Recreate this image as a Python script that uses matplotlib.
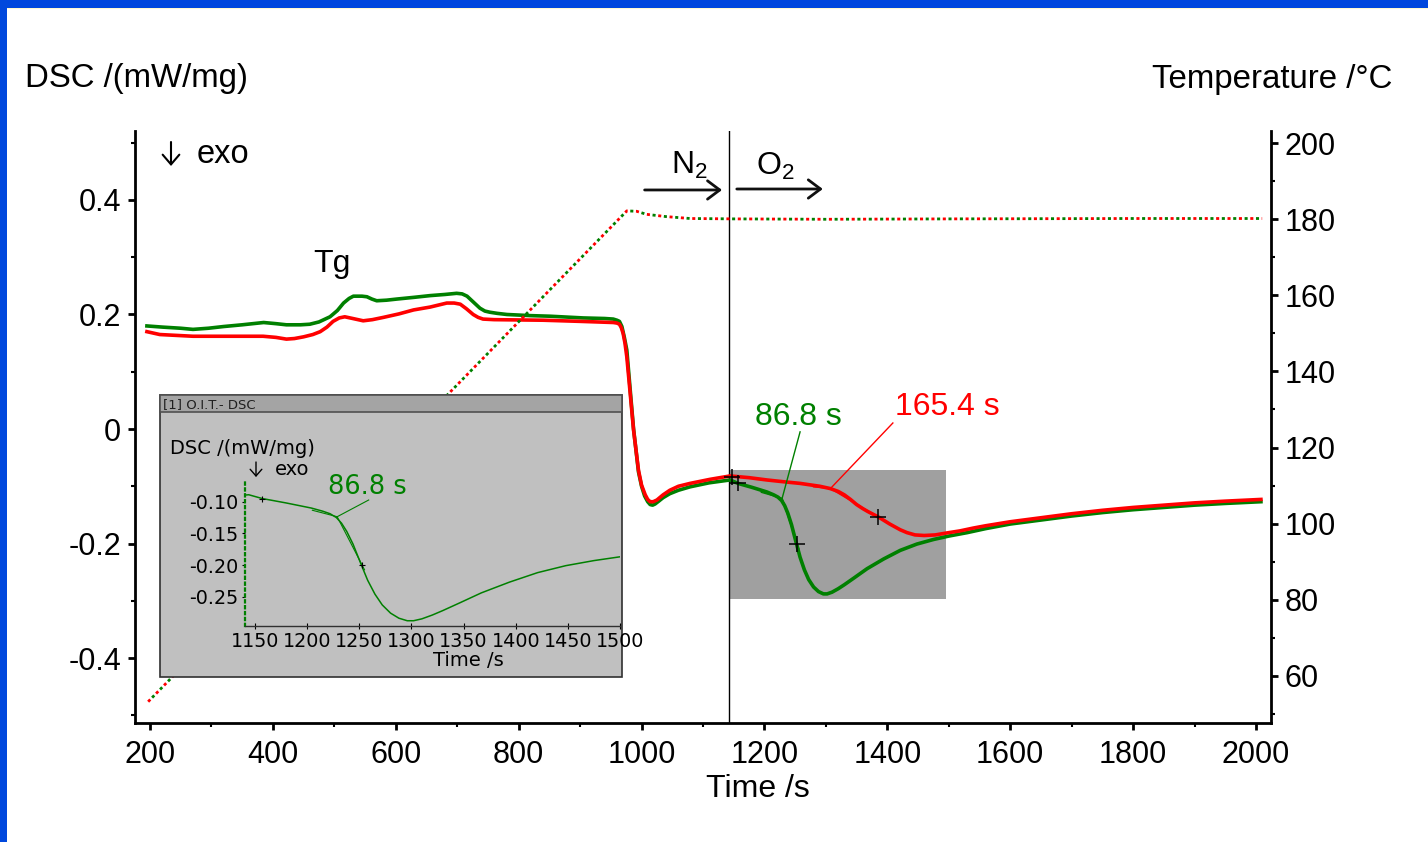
import matplotlib.pyplot as plt
from matplotlib.patches import Rectangle

plt.rcParams['font.family'] = ['Liberation Sans', 'DejaVu Sans']
plt.rcParams['mathtext.fontset'] = 'custom'
plt.rcParams['mathtext.rm'] = 'Liberation Sans'
plt.rcParams['mathtext.default'] = 'regular'
plt.rcParams['axes.unicode_minus'] = False

GREEN = '#008000'
RED = '#ff0000'

# DSC signal, sample 1 (green)
green_t = [195, 220, 250, 270, 295, 320, 350, 385, 405, 422, 445, 460, 475, 493,
           505, 515, 524, 531, 545, 553, 561, 569, 585, 602, 630, 656, 680, 699,
           708, 716, 726, 737, 745, 753, 765, 781, 820, 851, 905, 940, 954, 960,
           964, 968, 972, 976, 981, 987, 995, 1000, 1005, 1010, 1014, 1018, 1022,
           1028, 1035, 1046, 1060, 1079, 1110, 1144, 1157, 1180, 1204, 1215, 1222,
           1228, 1233, 1238, 1244, 1252, 1258, 1265, 1272, 1280, 1288, 1296, 1302,
           1310, 1320, 1330, 1346, 1367, 1394, 1421, 1448, 1475, 1500, 1530, 1560,
           1600, 1650, 1700, 1750, 1800, 1850, 1900, 1950, 2008]
green_v = [0.180, 0.178, 0.176, 0.174, 0.176, 0.179, 0.182, 0.186, 0.184, 0.182,
           0.182, 0.183, 0.187, 0.196, 0.207, 0.220, 0.228, 0.232, 0.232, 0.231,
           0.227, 0.224, 0.225, 0.227, 0.230, 0.233, 0.235, 0.237, 0.236, 0.232,
           0.222, 0.211, 0.206, 0.204, 0.202, 0.200, 0.198, 0.197, 0.194, 0.193,
           0.192, 0.190, 0.188, 0.179, 0.160, 0.138, 0.075, 0.000, -0.075, -0.100,
           -0.117, -0.127, -0.132, -0.133, -0.131, -0.126, -0.120, -0.113, -0.107,
           -0.101, -0.094, -0.089, -0.095, -0.102, -0.110, -0.115, -0.119, -0.125,
           -0.134, -0.147, -0.167, -0.200, -0.224, -0.246, -0.263, -0.276, -0.284,
           -0.288, -0.288, -0.285, -0.279, -0.272, -0.260, -0.244, -0.227, -0.212,
           -0.201, -0.193, -0.187, -0.181, -0.174, -0.166, -0.159, -0.152, -0.146,
           -0.141, -0.137, -0.133, -0.130, -0.127]

# DSC signal, sample 2 (red)
red_t = [195, 216, 270, 384, 405, 422, 435, 450, 465, 477, 488, 498, 508, 517,
         530, 547, 562, 580, 605, 629, 656, 683, 695, 705, 715, 726, 734, 742,
         760, 840, 900, 954, 960, 964, 967, 970, 973, 976, 981, 987, 995, 1000,
         1006, 1010, 1014, 1019, 1025, 1035, 1046, 1060, 1079, 1111, 1144, 1175,
         1204, 1230, 1258, 1290, 1307, 1320, 1330, 1340, 1350, 1360, 1368, 1386,
         1404, 1421, 1432, 1445, 1460, 1478, 1500, 1518, 1540, 1560, 1600, 1650,
         1700, 1750, 1800, 1850, 1900, 1950, 2008]
red_v = [0.170, 0.165, 0.162, 0.162, 0.160, 0.157, 0.158, 0.161, 0.165, 0.170,
         0.178, 0.188, 0.194, 0.196, 0.193, 0.189, 0.191, 0.195, 0.201, 0.208,
         0.213, 0.220, 0.220, 0.218, 0.210, 0.200, 0.195, 0.192, 0.191, 0.190,
         0.188, 0.186, 0.185, 0.183, 0.177, 0.167, 0.150, 0.126, 0.068, -0.002,
         -0.072, -0.098, -0.115, -0.123, -0.127, -0.127, -0.124, -0.115, -0.107,
         -0.100, -0.095, -0.088, -0.082, -0.085, -0.089, -0.092, -0.095, -0.100,
         -0.104, -0.109, -0.115, -0.123, -0.132, -0.139, -0.144, -0.154, -0.166,
         -0.176, -0.181, -0.185, -0.186, -0.185, -0.181, -0.178, -0.173, -0.169,
         -0.162, -0.155, -0.148, -0.142, -0.137, -0.133, -0.129, -0.126, -0.123]

# furnace temperature (same program for both runs)
temp_t = [197, 976, 992, 1008, 1040, 1079, 1150, 1300, 1500, 1800, 2010]
temp_c = [53.2, 182.2, 182.1, 181.3, 180.7, 180.2, 180.1, 180.0, 180.1, 180.2, 180.2]

gas_switch = 1142          # N2 -> O2
green_oit = 86.8
red_oit = 165.4
green_onset_v = -0.121
red_onset_v = -0.104

# evaluation crosses
green_cross_t = [1157, 1252.5]
green_cross_v = [-0.095, -0.200]
red_cross_t = [1147, 1385.5]
red_cross_v = [-0.083, -0.154]

# zoomed region
box_t = [1142, 1496]
box_v = [-0.297, -0.0716]

W, H = 1428, 842


def fx(px):
    return px / W


def fy(py):
    return 1 - py / H


fig = plt.figure(figsize=(W / 100, H / 100), dpi=100)

# slide frame
fig.add_artist(Rectangle((0, fy(8)), 1, 8 / H, transform=fig.transFigure,
                         color='#0048dd', lw=0))
fig.add_artist(Rectangle((0, fy(9)), 1, 1 / H, transform=fig.transFigure,
                         color='#fffad0', lw=0))
fig.add_artist(Rectangle((0, 0), 7 / W, 1, transform=fig.transFigure,
                         color='#0048dd', lw=0))

ax = fig.add_axes([fx(135), fy(723), fx(1271) - fx(135), fy(131) - fy(723)])
tax = ax.twinx()

ax.set_xlim(175.6, 2024.4)
ax.set_ylim(-0.5135, 0.5205)
tax.set_ylim(47.6, 203.2)

ax.add_patch(Rectangle((box_t[0], box_v[0]), box_t[1] - box_t[0], box_v[1] - box_v[0],
                       facecolor='#a0a0a0', edgecolor='none', zorder=1))
ax.axvline(gas_switch, color='black', lw=1, zorder=2)

ax.plot(green_t, green_v, color=GREEN, lw=2.6, zorder=3)
ax.plot(red_t, red_v, color=RED, lw=2.6, zorder=4)

# onset construction lines
g_on = gas_switch + green_oit
r_on = gas_switch + red_oit
ax.plot([1195, g_on, 1256], [-0.1106, green_onset_v, -0.2095], color=GREEN, lw=1, zorder=5)
ax.plot([g_on, 1258], [green_onset_v, -0.005], color=GREEN, lw=1, zorder=5)
ax.plot([1280, r_on, 1390], [-0.101, red_onset_v, -0.157], color=RED, lw=1, zorder=5)
ax.plot([r_on, 1409], [red_onset_v, 0.0105], color=RED, lw=1, zorder=5)

ax.plot(green_cross_t, green_cross_v, ls='none', marker='+', ms=12, mew=1.1,
        color='black', zorder=6)
ax.plot(red_cross_t, red_cross_v, ls='none', marker='+', ms=12, mew=1.1,
        color='black', zorder=6)

tax.plot(temp_t, temp_c, color=RED, lw=2.0, ls=(0, (1.1, 3.0)))
tax.plot(temp_t, temp_c, color=GREEN, lw=2.0, ls=(2.05, (1.1, 3.0)))

for s in ['top', 'right']:
    ax.spines[s].set_visible(False)
for s in ['top', 'left', 'bottom']:
    tax.spines[s].set_visible(False)
for a, s in [(ax, 'left'), (ax, 'bottom'), (tax, 'right')]:
    a.spines[s].set_linewidth(2)

ax.set_xticks(range(200, 2001, 200))
ax.set_xticks(range(300, 2000, 200), minor=True)
ax.set_yticks([-0.4, -0.2, 0, 0.2, 0.4])
ax.set_yticklabels(['-0.4', '-0.2', '0', '0.2', '0.4'])
ax.set_yticks([-0.5, -0.3, -0.1, 0.1, 0.3, 0.5], minor=True)
ax.set_yticklabels([], minor=True)
tax.set_yticks(range(60, 201, 20))
tax.set_yticks(range(50, 200, 20), minor=True)

for a in (ax, tax):
    a.tick_params(which='major', direction='out', length=5, width=2, labelsize=22, pad=5)
    a.tick_params(which='minor', direction='out', length=3, width=1.5)
ax.tick_params(axis='x', pad=7)

# axis titles and annotations
fig.text(fx(25), fy(87), 'DSC /(mW/mg)', fontsize=23.8, va='baseline')
fig.text(fx(1392), fy(88), 'Temperature /°C', fontsize=23.8, ha='right', va='baseline')
fig.text(fx(758), fy(797), 'Time /s', fontsize=23, ha='center', va='baseline')
fig.text(fx(197), fy(163), 'exo', fontsize=23.5, va='baseline')
fig.text(fx(313), fy(272), 'Tg', fontsize=23, va='baseline')
fig.text(fx(671), fy(174), 'N$_2$', fontsize=23, va='baseline')
fig.text(fx(756), fy(175), 'O$_2$', fontsize=23, va='baseline')
fig.text(fx(755), fy(425), f'{green_oit} s', fontsize=23, color=GREEN, va='baseline')
fig.text(fx(895), fy(415), f'{red_oit} s', fontsize=23, color=RED, va='baseline')

down = dict(arrowstyle='->, head_length=0.35, head_width=0.3', lw=1.5, color='black',
            mutation_scale=20, shrinkA=0, shrinkB=0)
ax.annotate('', xy=(171, H - 166), xytext=(171, H - 142),
            xycoords='figure pixels', textcoords='figure pixels', arrowprops=down)

gas = dict(arrowstyle='->, head_length=0.4, head_width=0.3', lw=2, color='#101010',
           mutation_scale=22, shrinkA=0, shrinkB=0)
ax.annotate('', xy=(1131, 0.4175), xytext=(1005, 0.4175), arrowprops=gas)
ax.annotate('', xy=(1295, 0.4192), xytext=(1155, 0.4192), arrowprops=gas)

# inset window
fig.add_artist(Rectangle((fx(160), fy(677)), 462 / W, 282 / H, transform=fig.transFigure,
                         facecolor='#c0c0c0', edgecolor='#303030', lw=1.2, zorder=5))
fig.add_artist(Rectangle((fx(160), fy(412)), 462 / W, 17 / H, transform=fig.transFigure,
                         facecolor='#a4a4a4', edgecolor='#505050', lw=1.2, zorder=5))
fig.text(fx(163), fy(408), '[1] O.I.T.- DSC', fontsize=9.5, family='DejaVu Sans',
         color='#202020', va='baseline', zorder=7)

ins = fig.add_axes([fx(245), fy(626), 375 / W, 146 / H])
ins.set_zorder(6)
ins.patch.set_visible(False)
ins.set_xlim(1140.4, 1500)
ins.set_ylim(-0.2963, -0.0657)

ins.plot(green_t, green_v, color=GREEN, lw=1.1)
ins.plot([1205, g_on, 1255], [-0.1135, -0.1237, -0.2075], color=GREEN, lw=0.8)
ins.plot([g_on, 1259], [-0.1237, -0.0973], color=GREEN, lw=0.8)
ins.plot(green_cross_t, green_cross_v, ls='none', marker='+', ms=5, mew=0.8, color='black')

ins.spines['top'].set_visible(False)
ins.spines['right'].set_visible(False)
ins.spines['left'].set_color(GREEN)
ins.spines['left'].set_linestyle(':')
ins.spines['left'].set_linewidth(1.6)
ins.spines['bottom'].set_color('#303030')
ins.spines['bottom'].set_linewidth(1)

ins.set_xticks(range(1150, 1501, 50))
ins.set_yticks([-0.25, -0.20, -0.15, -0.10])
ins.set_yticklabels(['-0.25', '-0.20', '-0.15', '-0.10'])
ins.tick_params(axis='x', direction='inout', length=4, width=0.8, pad=2,
                labelsize=13.8, labelfontfamily='DejaVu Sans')
ins.tick_params(axis='y', direction='out', length=2, width=0.8, pad=3,
                labelsize=13.8, labelfontfamily='DejaVu Sans')

fig.text(fx(170), fy(454), 'DSC /(mW/mg)', fontsize=14, family='DejaVu Sans',
         va='baseline', zorder=7)
fig.text(fx(275), fy(475), 'exo', fontsize=14, family='DejaVu Sans',
         va='baseline', zorder=7)
small_down = dict(arrowstyle='->, head_length=0.4, head_width=0.35', lw=1, color='black',
                  mutation_scale=12, shrinkA=0, shrinkB=0)
ins.annotate('', xy=(256, H - 477), xytext=(256, H - 462),
             xycoords='figure pixels', textcoords='figure pixels', arrowprops=small_down)
fig.text(fx(328), fy(494), f'{green_oit} s', fontsize=18.5, family='DejaVu Sans',
         color=GREEN, va='baseline', zorder=7)
fig.text(fx(468), fy(666), 'Time /s', fontsize=14, family='DejaVu Sans',
         ha='center', va='baseline', zorder=7)

fig.savefig('out.png', dpi=100)
